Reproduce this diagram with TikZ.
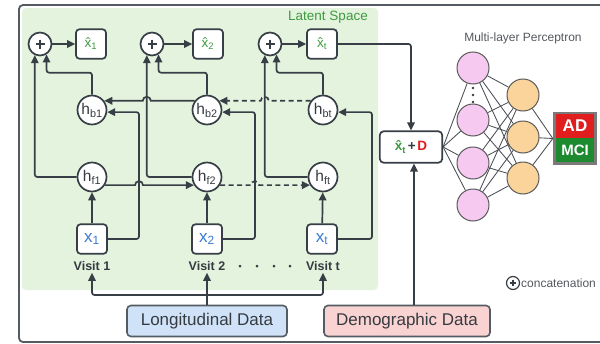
\documentclass[tikz,border=0pt]{standalone}
\usepackage{fontspec}
\setmainfont{Liberation Sans}
\usetikzlibrary{calc,arrows.meta}
\definecolor{lnc}{HTML}{373E46}
\definecolor{txtc}{HTML}{363B41}
\definecolor{latfill}{HTML}{E4F3DE}
\definecolor{latgreen}{HTML}{3E9B40}
\definecolor{xblue}{HTML}{3A7BD5}
\definecolor{longfill}{HTML}{CFE2F8}
\definecolor{demofill}{HTML}{F9D2D2}
\definecolor{pinkfill}{HTML}{F6C9F1}
\definecolor{orangefill}{HTML}{FBD49C}
\definecolor{adred}{HTML}{E01E1E}
\definecolor{mcigreen}{HTML}{1E8A30}
\definecolor{outgray}{HTML}{7A7A7A}
\definecolor{mlpline}{HTML}{4A4F55}
\newcommand\fsz[1]{\fontsize{#1}{#1}\selectfont}
\begin{document}
\begin{tikzpicture}[x=1pt,y=-1pt,
 line/.style={draw=lnc,line width=1.7pt,rounded corners=2.5pt},
 arr/.style={line,-{Triangle[length=8pt,width=7.5pt]}},
 dsh/.style={dash pattern=on 5pt off 3.5pt},
 cell/.style={circle,draw=lnc,line width=1.7pt,fill=white,minimum size=29pt,inner sep=0pt,text=txtc,font=\fsz{15.5}},
 sqbox/.style={draw=lnc,line width=1.7pt,fill=white,rounded corners=3.5pt,minimum width=30pt,minimum height=29.5pt,inner sep=0pt},
 cat/.style={circle,draw=lnc,line width=1.7pt,fill=white,minimum size=23pt,inner sep=0pt,
   path picture={\draw[lnc,line width=2pt] ($(path picture bounding box.center)+(-4.5,0)$) -- ++(9,0) ($(path picture bounding box.center)+(0,-4.5)$) -- ++(0,9);}},
 smallcat/.style={circle,draw=lnc,line width=1.2pt,fill=white,minimum size=13pt,inner sep=0pt,
   path picture={\draw[lnc,line width=1.2pt] ($(path picture bounding box.center)+(-2.8,0)$) -- ++(5.6,0) ($(path picture bounding box.center)+(0,-2.8)$) -- ++(0,5.6);}},
 visit/.style={font=\fsz{12.5}\bfseries,text=txtc,inner sep=2pt},
 mlpnode/.style={circle,draw=gray!70!black,line width=1pt,minimum size=32pt,inner sep=0pt},
 mlpedge/.style={draw=mlpline,line width=0.85pt},
 databox/.style={draw=lnc!85,line width=1.6pt,rounded corners=4pt,minimum height=31pt,inner sep=0pt,font=\fsz{17},text=txtc},
]
\useasboundingbox (0,0) rectangle (600,343);
\clip (0,0) rectangle (600,343);
\fill[white] (0,0) rectangle (600,343);
% latent space area and frame
\fill[latfill,rounded corners=4pt] (22,8) rectangle (378,290);
\draw[draw=lnc!85,line width=1.8pt,rounded corners=4pt] (19,5) rectangle (612,342);
\node[font=\fsz{13.5},text=latgreen] (lat) at (328,17) {Latent Space};

% concatenation and outputs
\node[cat] (p1) at (40,44) {};
\node[cat] (p2) at (152,44) {};
\node[cat] (p3) at (270,44) {};
\node[sqbox] (y1) at (91,44) {\fsz{13.5}\color{latgreen}\^{x}\textsubscript{1}};
\node[sqbox] (y2) at (208,44) {\fsz{13.5}\color{latgreen}\^{x}\textsubscript{2}};
\node[sqbox] (yt) at (322,44) {\fsz{13.5}\color{latgreen}\^{x}\textsubscript{t}};

% backward cells
\node[cell] (hb1) at (92,110) {h\textsubscript{b1}};
\node[cell] (hb2) at (207,110) {h\textsubscript{b2}};
\node[cell] (hbt) at (323,110) {h\textsubscript{bt}};
% forward cells
\node[cell] (hf1) at (92,177) {h\textsubscript{f1}};
\node[cell] (hf2) at (207,177) {h\textsubscript{f2}};
\node[cell] (hft) at (323,177) {h\textsubscript{ft}};
% inputs
\node[sqbox] (x1) at (92,239) {\fsz{17}\color{xblue}x\textsubscript{1}};
\node[sqbox] (x2) at (207,239) {\fsz{17}\color{xblue}x\textsubscript{2}};
\node[sqbox] (xt) at (322,239) {\fsz{17}\color{xblue}x\textsubscript{t}};
\node[visit] (v1) at (92,266) {Visit 1};
\node[visit] (v2) at (207,266) {Visit 2};
\node[visit] (vt) at (323,266) {Visit t};
\foreach \dx in {240,257,274,290} \fill[txtc] (\dx,266) circle[radius=1.5pt];

% channel coordinates
\coordinate (j1) at (139,0);
\coordinate (j2) at (255,0);
\coordinate (j3) at (372,0);
\coordinate (lj) at (207,295);

% data boxes
\node[databox,fill=longfill,minimum width=160pt] (long) at (207,321) {Longitudinal Data};
\node[databox,fill=demofill,minimum width=166pt] (demo) at (407,321) {Demographic Data};

% concatenation -> outputs
\draw[arr] (p1) -- (y1);
\draw[arr] (p2) -- (y2);
\draw[arr] (p3) -- (yt);

% inputs -> forward cells
\draw[arr] (x1) -- (hf1);
\draw[arr] (x2) -- (hf2);
\draw[arr] (xt) -- (hft);

% inputs -> backward cells
\draw[arr] (x1.east) -| (j1 |- hb1.-8) -- (hb1.-8);
\draw[arr] (x2.east) -| (j2 |- hb2.-8) -- (hb2.-8);
\draw[arr] (xt.east) -| (j3 |- hbt.-8) -- (hbt.-8);

% forward cells -> concatenation
\draw[arr] (hf1.west) -| (p1.-115);
\draw[arr] (hf2.west) -| (p2.-115);
\draw[arr] (hft.west) -| (p3.-115);

% backward cells -> concatenation
\draw[arr] (hb1.north) -- ++(0,-22) -| (p1.-58);
\draw[arr] (hb2.north) -- ++(0,-22) -| (p2.-58);
\draw[arr] (hbt.north) -- ++(0,-22) -| (p3.-58);

% forward recurrence with line jumps
\draw[arr,sharp corners] (hf1.-32) -- ($(j1 |- hf1.-32)-(4,0)$) arc[start angle=180,end angle=0,radius=4pt] -- (hf2.-148);
\draw[arr,dsh,sharp corners] (hf2.-32) -- ($(j2 |- hf2.-32)-(4,0)$) arc[start angle=180,end angle=0,radius=4pt] -- (hft.-148);
% backward recurrence with line jumps
\draw[arr,sharp corners] (hb2.143) -- ($(p2.-115 |- hb2.143)+(4,0)$) arc[start angle=0,end angle=180,radius=4pt] -- (hb1.37);
\draw[arr,dsh,sharp corners] (hbt.143) -- ($(p3.-115 |- hbt.143)+(4,0)$) arc[start angle=0,end angle=180,radius=4pt] -- (hb2.37);

% longitudinal data -> visits
\draw[arr] (long.north) -- (v2.south);
\draw[arr] (lj) -| (v1.south);
\draw[arr] (lj) -| (vt.south);

% combination box
\node[draw=lnc,line width=1.7pt,fill=white,rounded corners=4pt,minimum width=62.5pt,minimum height=31.5pt,inner sep=0pt] (comb) at (411,147)
  {{\fsz{13.5}\bfseries\color{latgreen}\^{x}\textsubscript{t}}\,{\fsz{13.5}\bfseries\color{txtc}+}\,{\fsz{13.5}\bfseries\color{adred}D}};
\coordinate (cin) at ($(comb.south)+(3,0)$);
\draw[arr] (yt.east) -| (comb.north);
\draw[arr] (demo.north -| cin) -- (cin);

% MLP
\node[font=\fsz{12},text=txtc!85] (mlpt) at (523,38) {Multi-layer Perceptron};
\node[mlpnode,fill=pinkfill] (P1) at (473,68) {};
\node[mlpnode,fill=pinkfill] (P2) at (473,120) {};
\node[mlpnode,fill=pinkfill] (P3) at (473,163) {};
\node[mlpnode,fill=pinkfill] (P4) at (473,205) {};
\foreach \dy in {88,95,102} \fill[txtc] (473,\dy) circle[radius=1.3pt];
\node[mlpnode,fill=orangefill] (O1) at (523,95) {};
\node[mlpnode,fill=orangefill] (O2) at (523,137) {};
\node[mlpnode,fill=orangefill] (O3) at (523,178) {};
\node[fill=outgray,minimum width=44pt,minimum height=53pt,inner sep=0pt] (out) at (575,138.5) {};
\node[fill=adred,minimum width=38pt,minimum height=24pt,inner sep=0pt,text=white,font=\fsz{17}\bfseries] (ad) at (575,125.5) {AD};
\node[fill=mcigreen,minimum width=38pt,minimum height=24pt,inner sep=0pt,text=white,font=\fsz{15}\bfseries] (mci) at (575,150) {MCI};
\foreach \i in {1,...,4} \draw[mlpedge] (comb.east) -- (P\i);
\foreach \i in {1,...,4} \foreach \j in {1,2,3} \draw[mlpedge] (P\i) -- (O\j);
\foreach \j in {1,2,3} \draw[mlpedge] (O\j) -- (out.west);

% legend
\node[smallcat] (lg) at (513,283) {};
\node[anchor=west,font=\fsz{12},text=txtc!85,inner sep=0pt] (lgt) at (521,283) {concatenation};
\end{tikzpicture}
\end{document}
